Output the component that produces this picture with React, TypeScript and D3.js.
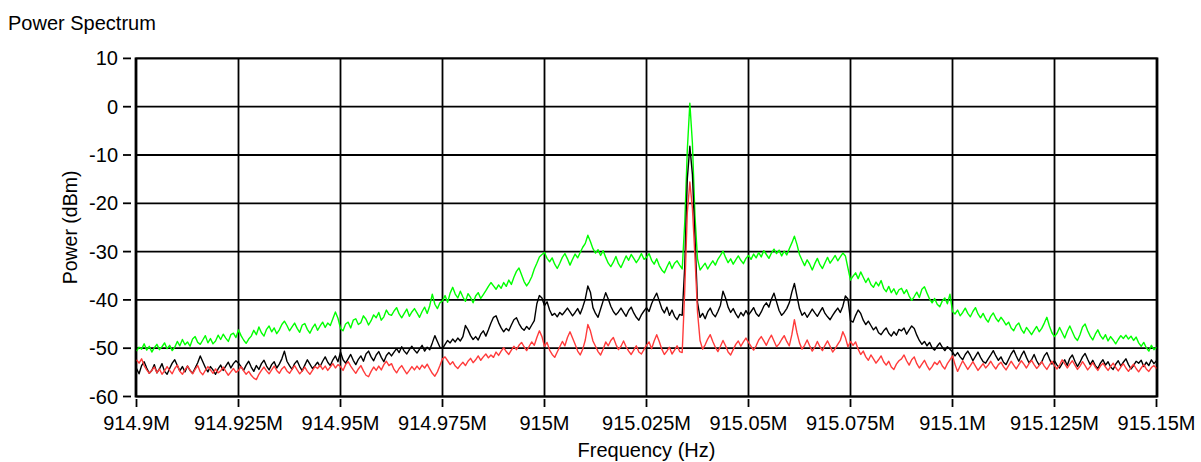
import * as d3 from 'd3'

// spectrum sweep: 914.9 MHz .. 915.15 MHz, 401 bins (625 Hz apart)
const F_START = 914.9e6
const F_STOP = 915.15e6
const BIN_HZ = 625

const X_TICKS = [914.9e6, 914.925e6, 914.95e6, 914.975e6, 915e6, 915.025e6, 915.05e6, 915.075e6, 915.1e6, 915.125e6, 915.15e6]
const X_TICK_LABELS = ['914.9M', '914.925M', '914.95M', '914.975M', '915M', '915.025M', '915.05M', '915.075M', '915.1M', '915.125M', '915.15M']
const Y_TICKS = [10, 0, -10, -20, -30, -40, -50, -60]

// green trace (dBm)
const GREEN_DBM = [
  -50.6,-49.8,-50.2,-49.1,-50.4,-49.6,-50.8,-49.9,-49.2,-50.3,-49.7,-48.9,-50.1,-49.4,-50.5,-49.8,-48.6,-49.5,-48.2,-49.3,
  -48.7,-49.6,-48.1,-47.6,-48.8,-49.2,-48.3,-47.4,-48.9,-48.0,-49.1,-48.5,-47.3,-48.2,-47.1,-47.9,-48.6,-47.2,-46.9,-47.8,
  -46.2,-47.4,-48.3,-49.0,-48.1,-47.5,-46.3,-47.2,-45.6,-46.8,-47.5,-46.1,-45.4,-46.6,-45.8,-47.0,-46.2,-45.1,-44.4,-45.3,
  -46.4,-45.6,-44.8,-45.9,-46.7,-45.2,-44.9,-46.1,-46.9,-45.8,-45.0,-46.3,-45.4,-44.6,-45.7,-44.8,-45.3,-43.9,-42.5,-43.8,
  -45.9,-46.4,-45.0,-44.6,-45.8,-44.2,-43.9,-45.1,-44.7,-43.3,-44.0,-45.2,-44.3,-43.1,-43.7,-42.6,-44.2,-43.5,-42.1,-43.0,
  -43.2,-42.3,-41.6,-42.9,-43.7,-42.8,-41.9,-43.4,-42.5,-41.8,-42.7,-43.6,-42.4,-41.5,-42.8,-41.2,-38.8,-40.9,-41.8,-40.6,
  -40.2,-39.1,-40.5,-38.6,-37.4,-38.8,-39.6,-38.2,-39.4,-40.3,-38.7,-39.5,-40.6,-39.2,-38.5,-39.7,-38.9,-38.1,-37.2,-36.4,
  -37.1,-37.8,-36.9,-37.6,-36.4,-37.2,-35.9,-36.8,-35.3,-34.1,-33.4,-34.8,-36.2,-37.1,-36.3,-35.2,-33.6,-32.4,-31.1,-30.6,
  -30.2,-31.4,-32.1,-31.3,-32.6,-33.5,-32.4,-31.2,-30.4,-31.5,-32.8,-31.6,-30.5,-31.3,-30.2,-29.1,-28.3,-26.6,-27.9,-29.4,
  -30.3,-29.6,-30.8,-29.8,-31.2,-32.4,-33.1,-32.2,-31.0,-32.5,-33.3,-32.1,-30.9,-31.8,-30.6,-31.4,-32.3,-31.5,-30.4,-31.6,
  -31.2,-30.4,-31.8,-32.6,-31.5,-32.9,-33.8,-34.4,-33.2,-32.1,-33.5,-32.4,-31.9,-32.8,-33.6,-24.0,-9.0,0.7,-7.5,-22.5,
  -31.5,-33.8,-33.1,-32.4,-33.6,-32.7,-31.9,-32.8,-31.6,-30.8,-29.9,-31.2,-32.3,-31.5,-32.6,-31.7,-30.9,-31.8,-32.5,-31.4,
  -30.8,-31.6,-30.5,-31.3,-30.2,-31.1,-29.8,-30.6,-31.4,-30.3,-29.5,-30.4,-29.7,-30.9,-29.9,-30.7,-29.4,-28.2,-26.8,-28.5,
  -30.6,-31.8,-32.9,-31.7,-32.6,-33.8,-32.5,-31.4,-32.7,-33.5,-32.3,-31.2,-32.4,-31.6,-30.8,-31.9,-31.1,-30.3,-30.9,-33.4,
  -35.9,-35.1,-34.4,-35.6,-34.2,-35.3,-36.4,-35.5,-36.8,-37.4,-36.3,-37.1,-36.0,-37.6,-38.3,-37.2,-38.5,-37.7,-38.9,-37.9,
  -37.6,-38.7,-37.9,-39.2,-40.1,-39.3,-38.4,-39.5,-37.8,-37.3,-38.6,-39.8,-40.6,-39.7,-40.9,-41.4,-40.2,-39.6,-40.8,-38.8,
  -42.4,-42.9,-42.1,-43.3,-42.6,-41.7,-42.8,-43.5,-42.4,-41.6,-42.9,-43.7,-42.8,-43.9,-44.6,-43.4,-42.7,-43.8,-44.5,-43.6,
  -44.3,-45.2,-44.6,-45.8,-46.4,-45.3,-44.8,-46.1,-46.9,-45.7,-46.4,-47.2,-46.3,-45.5,-46.6,-45.9,-44.8,-43.6,-45.4,-46.8,
  -47.6,-46.9,-45.7,-46.8,-47.9,-46.5,-45.4,-46.6,-47.8,-48.4,-47.2,-45.6,-45.0,-46.4,-47.5,-48.3,-47.1,-46.2,-47.4,-48.1,
  -47.2,-48.5,-47.6,-48.3,-49.1,-48.2,-47.4,-48.0,-47.3,-48.1,-47.5,-48.4,-47.7,-48.9,-49.6,-48.8,-49.9,-50.6,-49.4,-50.3,
  -49.8,
]

// black trace (dBm)
const BLACK_DBM = [
  -54.2,-55.3,-53.6,-52.8,-54.1,-55.2,-54.6,-53.4,-55.1,-54.3,-53.2,-54.8,-55.4,-54.2,-53.1,-52.4,-53.6,-54.7,-53.8,-54.9,
  -53.7,-54.6,-55.2,-54.1,-53.0,-51.6,-52.8,-54.0,-54.9,-53.8,-54.5,-55.4,-54.3,-53.5,-54.6,-53.7,-52.9,-54.1,-53.2,-52.6,
  -53.1,-53.8,-54.6,-53.5,-52.7,-53.9,-54.8,-53.6,-54.4,-53.2,-52.5,-53.7,-54.5,-53.4,-52.8,-54.1,-53.3,-52.2,-50.6,-52.7,
  -53.6,-54.4,-53.2,-52.6,-53.8,-54.7,-53.5,-52.4,-53.3,-54.2,-53.6,-52.9,-53.8,-52.7,-51.8,-52.9,-53.6,-52.4,-51.6,-52.8,
  -50.8,-52.4,-53.1,-52.2,-51.3,-52.5,-53.4,-52.3,-51.6,-52.7,-51.2,-50.6,-51.8,-52.6,-51.4,-50.7,-51.9,-52.8,-51.5,-50.9,
  -51.6,-50.8,-50.1,-50.9,-49.7,-50.6,-51.2,-50.3,-49.6,-50.4,-51.0,-50.2,-49.4,-50.6,-49.8,-50.3,-48.9,-47.4,-48.6,-49.8,
  -50.1,-49.2,-48.4,-48.9,-48.1,-48.7,-47.9,-48.5,-47.6,-45.3,-46.2,-47.4,-48.2,-47.6,-48.3,-47.1,-46.4,-47.5,-46.2,-44.8,
  -43.6,-43.3,-44.7,-45.8,-46.6,-45.9,-46.4,-45.2,-44.1,-43.7,-44.9,-45.8,-46.3,-45.5,-46.1,-45.2,-44.3,-40.8,-39.1,-39.6,
  -41.2,-40.4,-42.1,-43.2,-42.8,-43.5,-42.6,-43.1,-42.4,-41.7,-42.5,-43.3,-42.6,-41.8,-42.9,-41.5,-39.8,-37.1,-38.4,-41.6,
  -42.8,-43.6,-41.9,-40.2,-38.5,-39.8,-41.3,-42.4,-43.1,-42.5,-41.7,-42.6,-43.4,-42.2,-41.5,-42.7,-43.6,-44.2,-43.1,-42.3,
  -41.6,-42.4,-40.8,-39.6,-38.6,-40.2,-41.8,-42.7,-41.5,-43.2,-42.1,-43.4,-44.1,-43.0,-43.2,-33.0,-15.0,-8.2,-14.0,-27.0,
  -40.5,-43.6,-42.8,-43.9,-42.5,-41.7,-42.9,-43.5,-42.4,-41.1,-38.2,-39.6,-41.5,-42.6,-41.8,-42.9,-43.7,-42.6,-43.3,-42.2,
  -43.1,-42.4,-41.6,-42.8,-43.4,-42.5,-41.3,-40.6,-41.5,-39.8,-38.6,-40.4,-42.2,-43.2,-42.6,-41.8,-40.6,-38.4,-36.6,-39.2,
  -41.8,-43.2,-42.6,-43.6,-42.8,-41.9,-42.7,-43.4,-42.5,-41.6,-42.8,-43.5,-44.1,-43.2,-42.4,-41.7,-42.6,-41.3,-39.2,-39.8,
  -44.3,-44.6,-43.2,-42.1,-42.8,-44.2,-45.1,-44.4,-45.3,-46.2,-45.6,-46.8,-47.2,-46.4,-45.8,-46.9,-47.5,-46.6,-47.3,-46.1,
  -46.4,-45.8,-47.1,-46.2,-45.4,-45.9,-47.3,-48.4,-49.2,-48.6,-49.5,-48.8,-49.9,-50.4,-49.6,-48.9,-49.8,-50.5,-49.7,-50.2,
  -50.8,-51.6,-50.9,-51.8,-52.4,-51.3,-50.6,-51.5,-52.6,-51.7,-50.8,-51.9,-52.8,-53.1,-52.2,-51.4,-50.5,-51.6,-52.5,-51.8,
  -52.9,-53.4,-52.3,-51.2,-50.4,-51.6,-52.7,-51.5,-50.6,-51.9,-53.0,-52.4,-51.3,-52.6,-53.5,-52.8,-51.6,-50.9,-52.2,-53.3,
  -52.6,-53.5,-54.1,-53.2,-52.4,-53.6,-52.1,-51.4,-52.7,-53.8,-52.9,-51.8,-51.1,-52.3,-53.4,-52.5,-53.6,-54.2,-53.1,-52.4,
  -53.5,-52.8,-53.9,-54.4,-53.3,-52.6,-53.7,-52.9,-52.2,-53.4,-54.3,-53.6,-52.7,-53.1,-52.5,-53.8,-52.9,-53.6,-52.4,-53.2,
  -52.6,
]

// red trace (dBm)
const RED_DBM = [
  -52.4,-53.1,-52.2,-53.6,-54.5,-55.2,-54.6,-53.9,-55.1,-54.3,-55.4,-54.7,-53.8,-54.6,-55.3,-54.2,-53.5,-54.8,-55.4,-54.5,
  -53.7,-54.6,-55.3,-54.4,-53.6,-54.9,-55.5,-54.6,-53.8,-54.5,-55.2,-54.3,-55.1,-54.7,-53.9,-54.8,-55.6,-54.9,-54.2,-55.0,
  -54.6,-53.8,-54.7,-55.4,-54.8,-55.6,-56.2,-56.5,-55.4,-54.6,-53.9,-54.7,-55.3,-54.5,-53.7,-54.6,-55.2,-54.3,-53.8,-54.7,
  -55.2,-54.4,-53.6,-54.5,-55.3,-54.7,-53.9,-54.8,-55.4,-54.6,-53.8,-54.2,-53.5,-54.4,-53.7,-54.6,-53.9,-53.2,-54.1,-53.4,
  -53.8,-54.6,-53.4,-52.8,-53.7,-54.5,-55.2,-54.3,-53.6,-54.7,-55.6,-55.9,-54.8,-53.9,-54.6,-53.7,-54.5,-53.4,-52.7,-53.6,
  -53.2,-54.4,-55.1,-54.2,-53.6,-54.5,-55.3,-54.6,-53.8,-54.5,-53.7,-54.4,-53.5,-54.1,-53.3,-54.3,-55.2,-55.8,-54.9,-53.6,
  -52.2,-51.8,-52.6,-53.4,-52.8,-53.7,-54.2,-53.5,-52.9,-53.6,-52.7,-52.1,-53.0,-52.4,-51.6,-52.5,-51.8,-51.2,-52.0,-51.4,
  -51.9,-50.8,-51.5,-50.6,-49.9,-50.7,-51.3,-50.4,-49.6,-50.3,-49.4,-48.8,-49.7,-50.5,-49.6,-48.7,-49.4,-47.8,-46.4,-47.6,
  -49.6,-48.8,-50.4,-51.3,-51.9,-50.8,-49.7,-48.6,-49.5,-47.8,-46.6,-47.9,-49.2,-50.6,-51.4,-50.2,-48.3,-45.1,-46.4,-48.5,
  -49.6,-50.7,-51.4,-50.2,-48.7,-49.5,-48.4,-47.8,-49.2,-50.3,-49.6,-48.5,-49.7,-50.6,-51.3,-50.4,-49.5,-50.8,-51.2,-50.3,
  -49.4,-48.7,-50.1,-48.5,-47.2,-48.6,-50.2,-51.3,-50.6,-49.8,-51.2,-50.4,-49.5,-50.7,-50.9,-38.0,-22.0,-15.6,-21.0,-31.0,
  -42.5,-48.4,-50.2,-49.3,-48.1,-47.2,-48.6,-49.8,-50.7,-49.6,-48.4,-49.5,-50.8,-51.4,-50.3,-49.2,-48.5,-49.6,-48.7,-47.9,
  -48.8,-49.6,-50.4,-49.5,-48.3,-47.6,-48.5,-49.4,-48.2,-47.3,-48.5,-49.7,-49.1,-48.2,-47.4,-48.6,-49.5,-47.2,-44.1,-46.8,
  -48.9,-50.2,-49.4,-48.3,-49.5,-50.6,-49.8,-48.6,-49.7,-50.5,-49.4,-48.5,-49.6,-50.8,-50.1,-49.2,-48.4,-46.6,-47.8,-49.7,
  -48.6,-49.4,-48.7,-50.2,-51.3,-50.6,-51.8,-52.5,-51.4,-52.2,-53.1,-52.4,-51.6,-52.8,-53.5,-52.7,-53.9,-54.4,-53.3,-52.6,
  -52.2,-51.4,-52.6,-53.5,-52.4,-51.8,-53.2,-54.1,-53.3,-52.5,-53.6,-54.5,-53.8,-52.9,-53.4,-52.6,-53.7,-54.3,-53.2,-52.4,
  -51.6,-53.4,-54.8,-53.7,-52.6,-53.5,-54.4,-53.6,-52.8,-53.7,-54.6,-53.9,-53.2,-54.1,-53.5,-52.7,-53.6,-54.3,-53.4,-52.9,
  -53.8,-54.5,-53.6,-52.7,-53.5,-54.3,-53.4,-52.6,-53.3,-54.1,-53.2,-52.5,-53.4,-54.2,-53.6,-52.8,-53.7,-54.4,-53.5,-52.7,
  -53.6,-54.3,-53.5,-52.4,-53.2,-54.1,-53.3,-52.6,-53.5,-54.4,-53.7,-52.8,-53.6,-54.5,-53.8,-53.0,-53.9,-54.6,-53.7,-53.1,
  -53.9,-54.6,-53.8,-53.1,-54.0,-54.7,-53.9,-53.2,-54.1,-54.8,-54.0,-53.3,-54.2,-54.9,-54.1,-53.4,-54.3,-54.8,-54.0,-53.6,
  -54.2,
]

const TRACES = [
  { name: 'green', color: '#00ff00', values: GREEN_DBM },
  { name: 'black', color: '#000000', values: BLACK_DBM },
  { name: 'red', color: '#ff3b3b', values: RED_DBM },
]

const FONT = '"Liberation Sans", Arial, sans-serif'

export default function App() {
  const width = 1201
  const height = 462

  const x = d3.scaleLinear().domain([F_START, F_STOP]).range([136.5, 1156.5])
  const y = d3.scaleLinear().domain([-60, 10]).range([396.5, 58.4])

  const line = d3.line<number>()
    .x((_, i) => x(F_START + i * BIN_HZ))
    .y(d => y(d))

  const [x0, x1] = x.range()
  const [yBottom, yTop] = y.range()

  return (
    <svg
      width={width}
      height={height}
      style={{ position: 'absolute', left: 0, top: 0, background: '#fff' }}
      fontFamily={FONT}
    >
      <text x={8} y={30} fontSize={20} fill="#000">Power Spectrum</text>

      {/* grid */}
      <g stroke="#000" strokeWidth={1.8}>
        {Y_TICKS.map(v => (
          <line key={`gy${v}`} x1={x0 - 1} x2={x1 + 1} y1={y(v)} y2={y(v)} />
        ))}
        {X_TICKS.map(f => (
          <line key={`gx${f}`} x1={x(f)} x2={x(f)} y1={yTop} y2={yBottom} />
        ))}
      </g>

      {/* traces drawn over the grid */}
      <g fill="none" strokeWidth={1.4} strokeLinejoin="round">
        {TRACES.map(t => (
          <path key={t.name} d={line(t.values) || ''} stroke={t.color} />
        ))}
      </g>

      <rect x={x0 - 1} y={yTop} width={x1 - x0 + 2} height={yBottom - yTop} fill="none" stroke="#000" strokeWidth={1.8} />

      {/* y axis */}
      <g fontSize={20} fill="#000">
        {Y_TICKS.map(v => (
          <g key={`ty${v}`}>
            <line x1={123} x2={131} y1={y(v)} y2={y(v)} stroke="#000" strokeWidth={1.8} />
            <text x={118} y={y(v)} textAnchor="end" dominantBaseline="central">{v}</text>
          </g>
        ))}
      </g>

      {/* x axis */}
      <g fontSize={20} fill="#000">
        {X_TICKS.map((f, i) => (
          <g key={`tx${f}`}>
            <line x1={x(f)} x2={x(f)} y1={399} y2={407} stroke="#000" strokeWidth={1.8} />
            <text x={x(f)} y={430} textAnchor="middle">{X_TICK_LABELS[i]}</text>
          </g>
        ))}
      </g>

      <text x={(x0 + x1) / 2} y={457} fontSize={20} textAnchor="middle" fill="#000">Frequency (Hz)</text>
      <text
        transform={`translate(77, ${(yTop + yBottom) / 2}) rotate(-90)`}
        fontSize={19.5}
        textAnchor="middle"
        fill="#000"
      >
        Power (dBm)
      </text>
    </svg>
  )
}
